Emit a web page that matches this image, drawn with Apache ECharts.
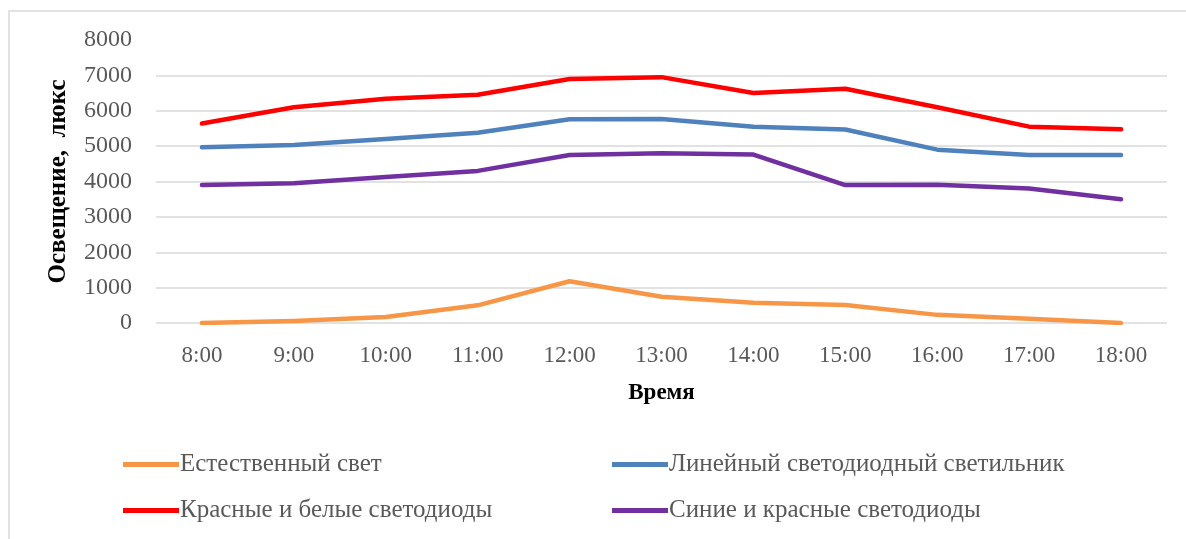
<!DOCTYPE html>
<html>
<head>
<meta charset="utf-8">
<script src="https://cdn.jsdelivr.net/npm/echarts@6/dist/echarts.min.js"></script>
<style>
html,body{margin:0;padding:0;background:#fff;}
#chart{width:1186px;height:539px;}
</style>
</head>
<body>
<div id="chart"></div>
<script>
const categories = ['8:00','9:00','10:00','11:00','12:00','13:00','14:00','15:00','16:00','17:00','18:00'];
const natural = [0, 60, 170, 500, 1180, 740, 570, 510, 230, 120, 0];
const linearLed = [4970, 5030, 5200, 5380, 5760, 5770, 5550, 5470, 4900, 4750, 4750];
const redWhite = [5640, 6100, 6340, 6450, 6900, 6950, 6500, 6620, 6100, 5550, 5480];
const blueRed = [3900, 3950, 4130, 4300, 4750, 4800, 4760, 3900, 3910, 3800, 3500];
const seriesNames = ['Естественный свет', 'Линейный светодиодный светильник', 'Красные и белые светодиоды', 'Синие и красные светодиоды'];
const yAxisTitle = 'Освещение,  люкс';
const xAxisTitle = 'Время';

const colors = ['#F79646', '#4F81BD', '#FF0000', '#7030A0'];
const font = '"Liberation Serif", "Times New Roman", serif';
const gridColors = ['#d9d9d9','#d9d9d9','#d9d9d9','#d9d9d9','#d9d9d9','#d9d9d9','#d9d9d9','#d9d9d9','rgba(0,0,0,0)'];

const chart = echarts.init(document.getElementById('chart'), null, {renderer: 'canvas'});
const legendCommon = {
  orient: 'vertical',
  icon: 'rect',
  itemWidth: 56,
  itemHeight: 5,
  itemGap: 21,
  selectedMode: false,
  textStyle: {fontFamily: font, fontSize: 25, color: '#595959', lineHeight: 25, padding: [0,0,0,-4]}
};
chart.setOption({
  animation: false,
  backgroundColor: '#fff',
  graphic: [{
    type: 'rect', silent: true,
    shape: {x: 9, y: 11, width: 1200, height: 600},
    style: {fill: 'none', stroke: '#d9d9d9', lineWidth: 1.5}
  }],
  grid: {left: 156, right: 19, top: 40, bottom: 216, containLabel: false},
  legend: [
    Object.assign({left: 118, top: 447, data: [seriesNames[0], seriesNames[2]]}, legendCommon),
    Object.assign({left: 607, top: 447, data: [seriesNames[1], seriesNames[3]]}, legendCommon)
  ],
  xAxis: {
    type: 'category',
    data: categories,
    boundaryGap: true,
    axisLine: {show: false},
    axisTick: {show: false},
    axisLabel: {fontFamily: font, fontSize: 23, color: '#595959', margin: 21},
    name: xAxisTitle,
    nameLocation: 'middle',
    nameGap: 59,
    nameTextStyle: {fontFamily: font, fontSize: 23, fontWeight: 'bold', color: '#000'}
  },
  yAxis: {
    type: 'value',
    min: 0, max: 8000, interval: 1000,
    axisLine: {show: false},
    axisTick: {show: false},
    axisLabel: {fontFamily: font, fontSize: 24, color: '#595959', margin: 24, formatter: v => String(v)},
    splitLine: {show: true, lineStyle: {color: gridColors, width: 1.5}},
    name: yAxisTitle,
    nameLocation: 'middle',
    nameGap: 85,
    nameRotate: 90,
    nameTextStyle: {fontFamily: font, fontSize: 25, fontWeight: 'bold', color: '#000'}
  },
  series: [
    {name: seriesNames[0], type: 'line', data: natural},
    {name: seriesNames[1], type: 'line', data: linearLed},
    {name: seriesNames[2], type: 'line', data: redWhite},
    {name: seriesNames[3], type: 'line', data: blueRed}
  ].map((s, i) => Object.assign(s, {
    showSymbol: false,
    symbol: 'none',
    color: colors[i],
    lineStyle: {color: colors[i], width: 4.5, cap: 'round', join: 'round'},
    z: 3
  }))
});
</script>
</body>
</html>
